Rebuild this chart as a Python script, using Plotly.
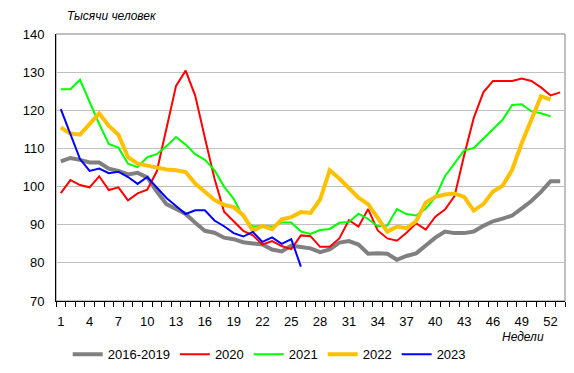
import plotly.graph_objects as go

weeks = list(range(1, 54))
tick_weeks = list(range(1, 53, 3))

s_2016_2019 = [106.6, 107.5, 107.0, 106.3, 106.3, 104.7, 104.1, 103.2, 103.6, 102.4,
               98.7, 95.4, 94.1, 92.8, 90.5, 88.4, 87.9, 86.6, 86.2, 85.4,
               85.1, 84.8, 83.5, 83.0, 84.5, 84.1, 83.8, 82.8, 83.5, 85.3,
               85.7, 84.8, 82.4, 82.5, 82.4, 80.8, 81.8, 82.5, 84.5, 86.6,
               88.2, 87.8, 87.8, 88.2, 89.7, 90.9, 91.6, 92.4, 94.3, 96.2,
               98.6, 101.4, 101.4]
s_2020 = [98.3, 101.7, 100.4, 99.8, 102.7, 99.1, 99.8, 96.4, 98.2, 99.2,
          104.0, 114.8, 126.4, 130.4, 123.8, 112.8, 102.1, 93.4, 91.0, 88.4,
          87.2, 84.8, 85.7, 84.4, 83.6, 87.2, 87.0, 84.2, 84.2, 86.4,
          91.2, 89.5, 94.1, 88.5, 86.4, 85.8, 87.9, 90.4, 88.7, 92.1,
          94.0, 97.5, 108.2, 118.0, 124.7, 127.7, 127.7, 127.7, 128.3, 127.7,
          126.0, 123.9, 124.7]
s_2021 = [125.5, 125.5, 128.0, 122.2, 116.4, 111.2, 110.2, 106.0, 105.1, 107.7,
          108.5, 110.6, 113.0, 111.0, 108.5, 107.0, 104.3, 100.0, 96.8, 92.0,
          89.5, 89.7, 89.5, 90.6, 90.6, 88.2, 87.6, 88.6, 88.9, 90.5,
          90.7, 92.9, 91.5, 89.6, 89.8, 94.1, 92.8, 92.4, 94.2, 97.2,
          102.7, 106.1, 109.5, 110.1, 112.5, 115.0, 117.5, 121.4, 121.6, 119.7,
          119.2, 118.4]
s_2022 = [115.5, 113.9, 113.6, 116.6, 119.2, 115.9, 113.6, 107.7, 106.0, 105.5,
          104.9, 104.5, 104.3, 103.8, 100.8, 98.5, 96.5, 95.2, 94.6, 92.5,
          88.4, 89.7, 88.8, 91.4, 92.0, 93.3, 93.1, 96.6, 104.3, 102.1,
          99.6, 97.1, 95.4, 91.6, 88.2, 89.5, 89.1, 90.9, 95.8, 97.3,
          97.9, 98.2, 97.3, 93.7, 95.4, 98.7, 100.2, 104.4, 111.4, 117.5,
          123.7, 122.8]
s_2023 = [120.3, 113.6, 107.2, 104.1, 104.7, 103.5, 103.9, 102.5, 100.7, 102.5,
          99.8, 97.0, 94.9, 92.8, 93.8, 93.8, 91.1, 89.6, 87.8, 86.9,
          88.1, 85.5, 86.7, 85.0, 86.2, 79.0]

series = [
    ("2016-2019", s_2016_2019, "#808080", 4),
    ("2020", s_2020, "#FF0000", 2),
    ("2021", s_2021, "#00FF00", 2),
    ("2022", s_2022, "#FFC000", 4),
    ("2023", s_2023, "#0000FF", 2),
]

FONT = "Liberation Sans, Arial, sans-serif"

fig = go.Figure()
for name, vals, color, w in series:
    fig.add_trace(go.Scatter(x=weeks[:len(vals)], y=vals, mode="lines", name=name,
                             line=dict(color=color, width=w)))

fig.update_layout(
    width=574, height=373,
    margin=dict(l=48, r=17, t=26, b=71),
    paper_bgcolor="white", plot_bgcolor="white",
    font=dict(family=FONT, size=13, color="black"),
    showlegend=True,
    legend=dict(orientation="h", x=0.023, xanchor="left", y=-0.2, yanchor="middle",
                font=dict(size=13), itemwidth=30, tracegroupgap=0),
    shapes=[dict(type="rect", xref="paper", yref="paper", x0=0, x1=1, y0=0, y1=1,
                 line=dict(color="#808080", width=1), layer="below")],
    annotations=[
        dict(text="<i>Тысячи человек</i>", xref="paper", yref="paper", x=0.018, y=1,
             xanchor="left", yanchor="bottom", yshift=9, showarrow=False,
             font=dict(size=12, family=FONT)),
        dict(text="<i>Недели</i>", xref="paper", yref="paper", x=0.9167, y=0,
             xanchor="center", yanchor="middle", yshift=-36, showarrow=False,
             font=dict(size=12, family=FONT)),
    ],
)

fig.update_xaxes(range=[0.5, 53.5], tickmode="array", tickvals=tick_weeks,
                 ticktext=[str(v) for v in tick_weeks], ticks="", showgrid=False,
                 showline=True, linecolor="black", linewidth=1, zeroline=False,
                 ticklabelstandoff=8,
                 minor=dict(tickmode="array", tickvals=[0.5 + i for i in range(54)],
                            ticks="outside", ticklen=5, tickcolor="black", showgrid=False))
fig.update_yaxes(range=[70, 140], tickmode="linear", tick0=70, dtick=10, ticks="",
                 showgrid=True, gridcolor="#C0C0C0", gridwidth=1,
                 showline=True, linecolor="black", linewidth=1, zeroline=False,
                 ticklabelstandoff=8)

fig.write_html("out.html")
